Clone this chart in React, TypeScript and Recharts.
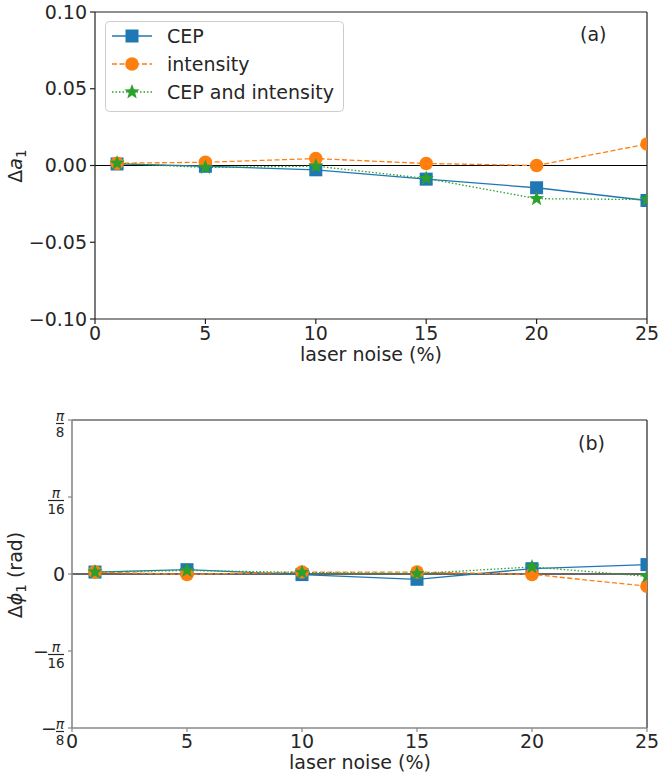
import React from 'react';
import { LineChart, Line, XAxis, YAxis, ReferenceLine, Legend } from 'recharts';

const noise = [1, 5, 10, 15, 20, 25];
// panel (a): Δa1
const cepA = [0.001, -0.0005, -0.0028, -0.0089, -0.0145, -0.0228];
const intA = [0.0015, 0.0021, 0.0045, 0.0013, 0.0, 0.014];
const bothA = [0.0015, -0.0013, -0.0004, -0.0084, -0.0216, -0.0222];
// panel (b): Δφ1 (rad)
const cepB = [0.005, 0.011, -0.0015, -0.0135, 0.0135, 0.024];
const intB = [0.005, -0.001, 0.005, 0.005, -0.001, -0.031];
const bothB = [0.005, 0.009, 0.004, 0.001, 0.018, -0.006];

const xTicks = [0, 5, 10, 15, 20, 25];
const aTicks = [-0.1, -0.05, 0, 0.05, 0.1];
const aTickLabels = ['\u22120.10', '\u22120.05', '0.00', '0.05', '0.10'];
const phiTicks = [-Math.PI / 8, -Math.PI / 16, 0, Math.PI / 16, Math.PI / 8];
const phiTickLabels = [
  { sign: '\u2212', den: '8' },
  { sign: '\u2212', den: '16' },
  null,
  { sign: '', den: '16' },
  { sign: '', den: '8' },
];
const seriesNames = ['CEP', 'intensity', 'CEP and intensity'];
const panelLabels = ['(a)', '(b)'];
const xLabel = 'laser noise (%)';

const dataA = noise.map((n, i) => ({ noise: n, cep: cepA[i], intensity: intA[i], both: bothA[i] }));
const dataB = noise.map((n, i) => ({ noise: n, cep: cepB[i], intensity: intB[i], both: bothB[i] }));

const BLUE = '#1f77b4';
const ORANGE = '#ff7f0e';
const GREEN = '#2ca02c';
const FONT = "'DejaVu Sans', 'Liberation Sans', sans-serif";
const TXT = '#262626';
const FS = 19;

const starPath = (cx: number, cy: number, R: number) => {
  const r = R * 0.42;
  let d = '';
  for (let k = 0; k < 10; k++) {
    const rad = k % 2 === 0 ? R : r;
    const ang = -Math.PI / 2 + (k * Math.PI) / 5;
    const px = cx + rad * Math.cos(ang);
    const py = cy + rad * Math.sin(ang);
    d += (k === 0 ? 'M' : 'L') + px.toFixed(2) + ',' + py.toFixed(2);
  }
  return d + 'Z';
};

const SquareDot = (p: any) =>
  p.cx == null ? <g key={`s${p.index}`} /> : (
    <rect key={`s${p.index}`} x={p.cx - 6.5} y={p.cy - 6.5} width={13} height={13} fill={BLUE} />
  );
const CircleDot = (p: any) =>
  p.cx == null ? <g key={`c${p.index}`} /> : (
    <circle key={`c${p.index}`} cx={p.cx} cy={p.cy} r={6.8} fill={ORANGE} />
  );
const StarDot = (p: any) =>
  p.cx == null ? <g key={`t${p.index}`} /> : (
    <path key={`t${p.index}`} d={starPath(p.cx, p.cy, 8)} fill={GREEN} />
  );

const XTick = (p: any) => (
  <text x={p.x} y={p.y} dy="0.71em" textAnchor="middle" fontSize={FS} fontFamily={FONT} fill={TXT}>
    {p.payload.value}
  </text>
);

const ATick = (p: any) => {
  const idx = aTicks.findIndex((t) => Math.abs(t - p.payload.value) < 1e-9);
  return (
    <text x={p.x} y={p.y} dy="0.35em" textAnchor="end" fontSize={FS} fontFamily={FONT} fill={TXT}>
      {idx >= 0 ? aTickLabels[idx] : p.payload.value}
    </text>
  );
};

const PhiTick = (p: any) => {
  const idx = phiTicks.findIndex((t) => Math.abs(t - p.payload.value) < 1e-9);
  const lab = idx >= 0 ? phiTickLabels[idx] : null;
  const x = p.x;
  const y = p.y;
  if (!lab) {
    return (
      <text x={x} y={y} dy="0.35em" textAnchor="end" fontSize={FS} fontFamily={FONT} fill={TXT}>
        0
      </text>
    );
  }
  const w = lab.den.length * 8;
  const right = x - 1;
  const left = right - w;
  const cx = (left + right) / 2;
  return (
    <g>
      {lab.sign && (
        <text x={left + 1} y={y + 7} textAnchor="end" fontSize={FS} fontFamily={FONT} fill={TXT}>
          {lab.sign}
        </text>
      )}
      <text x={cx} y={y + 0.5} textAnchor="middle" fontSize={14} fontStyle="italic" fontFamily={FONT} fill={TXT}>
        π
      </text>
      <line x1={left} x2={right} y1={y + 3.5} y2={y + 3.5} stroke={TXT} strokeWidth={1.2} />
      <text x={cx} y={y + 16.5} textAnchor="middle" fontSize={13.5} fontFamily={FONT} fill={TXT}>
        {lab.den}
      </text>
    </g>
  );
};

const renderLegend = () => (
  <svg width={240} height={92} style={{ display: 'block' }}>
    <rect x={0.5} y={0.5} width={238} height={90} rx={4} fill="white" fillOpacity={0.85} stroke="#cccccc" />
    {seriesNames.map((name, i) => {
      const cy = 15 + i * 28;
      const color = [BLUE, ORANGE, GREEN][i];
      const dash = [undefined, '5 2.5', '1.5 2'][i];
      return (
        <g key={name}>
          <line x1={7} x2={47} y1={cy} y2={cy} stroke={color} strokeWidth={1.3} strokeDasharray={dash} />
          {i === 0 && <rect x={27 - 6.5} y={cy - 6.5} width={13} height={13} fill={BLUE} />}
          {i === 1 && <circle cx={27} cy={cy} r={6.8} fill={ORANGE} />}
          {i === 2 && <path d={starPath(27, cy, 8)} fill={GREEN} />}
          <text x={62} y={cy} dy="0.35em" fontSize={FS} fontFamily={FONT} fill={TXT}>
            {name}
          </text>
        </g>
      );
    })}
  </svg>
);

export default function App() {
  return (
    <div style={{ position: 'absolute', left: 0, top: 0, width: 659, height: 776, background: 'white', fontFamily: FONT }}>
      {/* Panel (a) */}
      <div style={{ position: 'absolute', left: 0, top: 0, width: 659, height: 370 }}>
        <LineChart width={659} height={370} data={dataA} margin={{ top: 12, right: 12, left: 0, bottom: 0 }}>
          <XAxis
            dataKey="noise"
            type="number"
            domain={[0, 25]}
            ticks={xTicks}
            allowDataOverflow
            height={51}
            tickSize={5}
            tickMargin={3}
            tick={<XTick />}
            axisLine={{ stroke: '#222', strokeWidth: 1.2 }}
            tickLine={{ stroke: '#222', strokeWidth: 1.2 }}
            label={{
              content: () => (
                <text x={371} y={361} textAnchor="middle" fontSize={FS} fontFamily={FONT} fill={TXT}>
                  {xLabel}
                </text>
              ),
            }}
          />
          <YAxis
            type="number"
            domain={[-0.1, 0.1]}
            ticks={aTicks}
            allowDataOverflow
            width={95}
            tickSize={5}
            tickMargin={3}
            tick={<ATick />}
            axisLine={{ stroke: '#222', strokeWidth: 1.2 }}
            tickLine={{ stroke: '#222', strokeWidth: 1.2 }}
            label={{
              content: () => (
                <text x={22} y={166} transform="rotate(-90, 22, 166)" textAnchor="middle" fontSize={FS} fontFamily={FONT} fill={TXT}>
                  Δ<tspan fontStyle="italic">a</tspan>
                  <tspan fontSize={13.5} dy={4}>1</tspan>
                </text>
              ),
            }}
          />
          <ReferenceLine y={0} stroke="#000" strokeWidth={1.2} />
          <ReferenceLine y={0.1} stroke="#222" strokeWidth={1.2} />
          <ReferenceLine x={25} stroke="#222" strokeWidth={1.2} />
          <Line dataKey="cep" name={seriesNames[0]} stroke={BLUE} strokeWidth={1.3} dot={SquareDot} isAnimationActive={false} />
          <Line dataKey="intensity" name={seriesNames[1]} stroke={ORANGE} strokeWidth={1.3} strokeDasharray="5 2.5" dot={CircleDot} isAnimationActive={false} />
          <Line dataKey="both" name={seriesNames[2]} stroke={GREEN} strokeWidth={1.3} strokeDasharray="1.5 2" dot={StarDot} isAnimationActive={false} />
          <Legend
            layout="vertical"
            align="center"
            verticalAlign="middle"
            content={renderLegend}
            wrapperStyle={{ position: 'absolute', left: 105, top: 21, width: 240, height: 92 }}
          />
        </LineChart>
        <div style={{ position: 'absolute', left: 580, top: 23, fontSize: FS, fontFamily: FONT, color: TXT, lineHeight: '22px' }}>
          {panelLabels[0]}
        </div>
      </div>

      {/* Panel (b) */}
      <div style={{ position: 'absolute', left: 0, top: 400, width: 659, height: 376 }}>
        <LineChart width={659} height={376} data={dataB} margin={{ top: 20, right: 12, left: 0, bottom: 0 }}>
          <XAxis
            dataKey="noise"
            type="number"
            domain={[0, 25]}
            ticks={xTicks}
            allowDataOverflow
            height={48}
            tickSize={4}
            tickMargin={3}
            tick={<XTick />}
            axisLine={{ stroke: '#888', strokeWidth: 1.6 }}
            tickLine={{ stroke: '#888', strokeWidth: 1.2 }}
            label={{
              content: () => (
                <text x={360} y={369} textAnchor="middle" fontSize={FS} fontFamily={FONT} fill={TXT}>
                  {xLabel}
                </text>
              ),
            }}
          />
          <YAxis
            type="number"
            domain={[-Math.PI / 8, Math.PI / 8]}
            ticks={phiTicks}
            allowDataOverflow
            width={72}
            tickSize={4}
            tickMargin={3}
            tick={<PhiTick />}
            axisLine={{ stroke: '#888', strokeWidth: 1.6 }}
            tickLine={{ stroke: '#888', strokeWidth: 1.2 }}
            label={{
              content: () => (
                <text x={22} y={175} transform="rotate(-90, 22, 175)" textAnchor="middle" fontSize={FS} fontFamily={FONT} fill={TXT}>
                  Δ<tspan fontStyle="italic">ϕ</tspan>
                  <tspan fontSize={13.5} dy={4}>1</tspan>
                  <tspan dy={-4}> (rad)</tspan>
                </text>
              ),
            }}
          />
          <ReferenceLine y={0} stroke="#666" strokeWidth={2} />
          <ReferenceLine y={Math.PI / 8} stroke="#222" strokeWidth={1.2} />
          <ReferenceLine x={25} stroke="#222" strokeWidth={1.2} />
          <Line dataKey="cep" name={seriesNames[0]} stroke={BLUE} strokeWidth={1.3} dot={SquareDot} isAnimationActive={false} />
          <Line dataKey="intensity" name={seriesNames[1]} stroke={ORANGE} strokeWidth={1.3} strokeDasharray="5 2.5" dot={CircleDot} isAnimationActive={false} />
          <Line dataKey="both" name={seriesNames[2]} stroke={GREEN} strokeWidth={1.3} strokeDasharray="1.5 2" dot={StarDot} isAnimationActive={false} />
        </LineChart>
        <div style={{ position: 'absolute', left: 578, top: 32, fontSize: FS, fontFamily: FONT, color: TXT, lineHeight: '22px' }}>
          {panelLabels[1]}
        </div>
      </div>
    </div>
  );
}
